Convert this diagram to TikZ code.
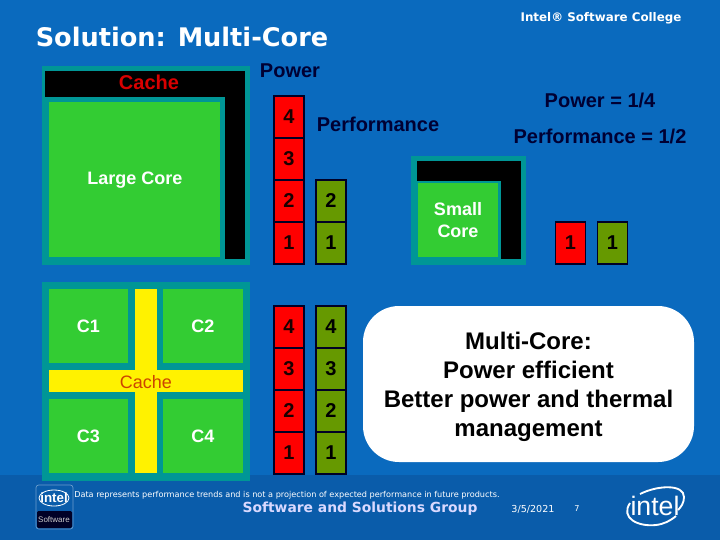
\documentclass[tikz,border=0pt]{standalone}
\usepackage{fontspec}
\setmainfont{Liberation Sans}
\newfontfamily\titlefont{DejaVu Sans}
\usetikzlibrary{positioning}

\definecolor{slideblue}{RGB}{10,106,190}
\definecolor{footblue}{RGB}{10,92,170}
\definecolor{panelteal}{RGB}{0,150,150}
\definecolor{coregreen}{RGB}{51,204,51}
\definecolor{perfolive}{RGB}{102,153,0}
\definecolor{darknavy}{RGB}{0,0,51}
\definecolor{cacheorange}{RGB}{204,68,0}

\begin{document}
\begin{tikzpicture}[
        x=0.75pt,
        y=-0.75pt,
        block/.style={
            rectangle,
            anchor=north west,
            inner sep=0pt,
            outer sep=0pt
        },
        panel/.style={block, fill=panelteal},
        core/.style={block, fill=coregreen},
        cachebar/.style={block, fill=black},
        crossbar/.style={block, fill=yellow},
        powercell/.style={
            rectangle,
            minimum width=22.5pt,
            minimum height=31.5pt,
            inner sep=0pt,
            outer sep=0pt,
            line width=1.2pt,
            draw=black!85!blue,
            fill=red,
            font=\fontsize{15}{15}\selectfont\bfseries,
            text=black!90!red
        },
        perfcell/.style={
            powercell,
            fill=perfolive,
            text=black
        },
        corelabel/.style={
            text=white,
            align=center,
            font=\fontsize{13.5}{16.5}\selectfont\bfseries
        },
        navylabel/.style={
            text=darknavy,
            font=\fontsize{15}{15}\selectfont\bfseries
        },
        footnote/.style={
            text=white,
            inner sep=0pt,
            font=\titlefont\fontsize{6.1}{6.5}\selectfont
        }
    ]
        \fill [slideblue] (0,0) rectangle (720,540);
        \fill [footblue] (0,475) rectangle (720,540);
        \useasboundingbox (0,0) rectangle (720,540);

        \node (title) [text=white, font=\titlefont\fontsize{19.2}{20}\selectfont\bfseries] at (182,37) {Solution: Multi-Core};
        \node (college) [text=white, font=\titlefont\fontsize{8.9}{9}\selectfont\bfseries] at (601,18.5) {Intel® Software College};

        % large core
        \node (largepanel) [panel, minimum width=156pt, minimum height=149.25pt] at (42,66) {};
        \node (largetop) [cachebar, minimum width=150pt, minimum height=19.5pt] at (45,71) {};
        \node (largeside) [cachebar, minimum width=15pt, minimum height=141pt] at (225,71) {};
        \node (largecore) [core, minimum width=128.25pt, minimum height=116.25pt] at (49,102) {};
        \node (largecache) [text=red!85!black, font=\fontsize{15}{15}\selectfont\bfseries] at (149,82) {Cache};
        \node (largetext) [corelabel] at (135,180) {Large Core};

        % small core
        \node (smallpanel) [panel, minimum width=86.25pt, minimum height=81.75pt] at (411,156) {};
        \node (smalltop) [cachebar, minimum width=78pt, minimum height=15pt] at (417,161) {};
        \node (smallside) [cachebar, minimum width=15pt, minimum height=73.5pt] at (501,161) {};
        \node (smallcore) [core, minimum width=60pt, minimum height=55.5pt] at (418,183) {};
        \node (smalltext) [corelabel] at (458,220) {Small\\Core};

        % four cores
        \node (quadpanel) [panel, minimum width=156pt, minimum height=149.25pt] at (42,282) {};
        \node (c1) [core, minimum width=59.25pt, minimum height=55.5pt] at (49,289) {};
        \node (c2) [core, minimum width=60pt, minimum height=55.5pt] at (163,289) {};
        \node (c3) [core, minimum width=59.25pt, minimum height=55.5pt] at (49,399) {};
        \node (c4) [core, minimum width=60pt, minimum height=55.5pt] at (163,399) {};
        \node (crossv) [crossbar, minimum width=16.5pt, minimum height=138pt] at (135,289) {};
        \node (crossh) [crossbar, minimum width=145.5pt, minimum height=16.5pt] at (49,370) {};
        \node (c1text) [corelabel] at (c1.center) {C1};
        \node (c2text) [corelabel] at (c2.center) {C2};
        \node (c3text) [corelabel] at (c3.center) {C3};
        \node (c4text) [corelabel] at (c4.center) {C4};
        \node (quadcache) [text=cacheorange, font=\fontsize{13.5}{15}\selectfont] at (146,382) {Cache};

        % upper bars
        \node (p4) [powercell] at (289,117) {4};
        \node (p3) [powercell, below=0pt of p4] {3};
        \node (p2) [powercell, below=0pt of p3] {2};
        \node (p1) [powercell, below=0pt of p2] {1};
        \node (f2) [perfcell, right=9pt of p2] {2};
        \node (f1) [perfcell, below=0pt of f2] {1};
        \node (sp1) [powercell] at (570.5,243) {1};
        \node (sf1) [perfcell, right=9pt of sp1] {1};

        % lower bars
        \node (q4) [powercell] at (289,327) {4};
        \node (q3) [powercell, below=0pt of q4] {3};
        \node (q2) [powercell, below=0pt of q3] {2};
        \node (q1) [powercell, below=0pt of q2] {1};
        \node (g4) [perfcell, right=9pt of q4] {4};
        \node (g3) [perfcell, below=0pt of g4] {3};
        \node (g2) [perfcell, below=0pt of g3] {2};
        \node (g1) [perfcell, below=0pt of g2] {1};

        \node (powerhead) [navylabel] at (290,71) {Power};
        \node (perfhead) [navylabel] at (378,124) {Performance};
        \node (powerquarter) [navylabel] at (600,100) {Power = 1/4};
        \node (perfhalf) [navylabel] at (600,136) {Performance = 1/2};

        \node (calloutbox) [
            rectangle,
            rounded corners=27pt,
            fill=white,
            minimum width=248.25pt,
            minimum height=117pt
        ] at (528.5,384) {};
        \node (callout) [
            align=center,
            font=\fontsize{18}{21.6}\selectfont\bfseries
        ] at (528.5,387) {Multi-Core:\\Power efficient\\Better power and thermal\\management};

        % footer
        \node (note) [footnote, anchor=west] at (74,495) {Data represents performance trends and is not a projection of expected performance in future products.};
        \node (group) [text=white!85!blue, font=\titlefont\fontsize{10.4}{11}\selectfont\bfseries] at (360,508.5) {Software and Solutions Group};
        \node (date) [footnote, font=\titlefont\fontsize{7.2}{8}\selectfont] at (533,509) {3/5/2021};
        \node (page) [footnote] at (577,509) {7};

        % small logo
        \draw [white!40!footblue, line width=0.5pt, fill=footblue, rounded corners=2pt] (36,485) rectangle (73,529);
        \fill [black!85!blue, rounded corners=1pt] (37,511) rectangle (72,528);
        \node (softlogo) [text=white, inner sep=0pt, font=\fontsize{10}{10}\selectfont\bfseries] at (54,498) {intel};
        \draw [white, line width=0.6pt] (54,498) ellipse (15 and 8);
        \node (softtext) [text=white!80!black, inner sep=0pt, font=\fontsize{6}{6}\selectfont] at (54,520) {Software};

        % big logo
        \node (intellogo) [text=white, inner sep=0pt, font=\fontsize{20}{20}\selectfont] at (655,506) {intel};
        \draw [white, line width=1.4pt] (640,494) .. controls (658,485) and (684,484) .. (684,497) .. controls (684,503) and (681,507) .. (678,510);
        \draw [white, line width=1.4pt] (630,503) .. controls (620,518) and (638,527) .. (656,525) .. controls (664,524) and (670,521) .. (676,516);
    \end{tikzpicture}
\end{document}
